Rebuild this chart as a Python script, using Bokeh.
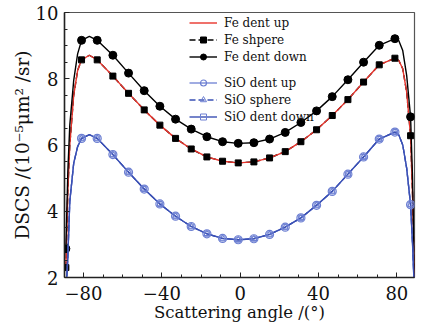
from bokeh.plotting import figure
from bokeh.models import Range1d, Legend, LegendItem, FixedTicker, Title
from bokeh.embed import file_html
from bokeh.resources import INLINE

# ---- data ----
angles = [-89, -88, -87, -85, -83, -81, -77, -73, -65, -57, -49, -41, -33, -25, -17, -9, -1,
          7, 15, 23, 31, 39, 47, 55, 63, 71, 79, 81, 83, 85, 87, 88, 89]
marker_angles = [-89, -81, -73, -65, -57, -49, -41, -33, -25, -17, -9, -1,
                 7, 15, 23, 31, 39, 47, 55, 63, 71, 79, 87]

fe_dent_up = [2.3, 4.6, 6.0, 7.5, 8.25, 8.57, 8.71, 8.57, 8.08, 7.56, 7.06, 6.60, 6.20, 5.88, 5.64, 5.51, 5.46,
              5.49, 5.61, 5.80, 6.10, 6.46, 6.89, 7.37, 7.90, 8.42, 8.62, 8.55, 8.30, 7.60, 6.28, 4.5, 2.0]
fe_sphere = [2.3, 4.6, 6.0, 7.5, 8.25, 8.57, 8.71, 8.57, 8.08, 7.56, 7.06, 6.60, 6.20, 5.88, 5.64, 5.51, 5.46,
             5.49, 5.61, 5.80, 6.10, 6.46, 6.89, 7.37, 7.90, 8.42, 8.62, 8.55, 8.30, 7.60, 6.28, 4.5, 2.0]
fe_dent_down = [2.87, 5.2, 6.6, 7.95, 8.75, 9.16, 9.28, 9.16, 8.71, 8.17, 7.64, 7.17, 6.78, 6.48, 6.25, 6.10, 6.05,
                6.07, 6.18, 6.38, 6.68, 7.03, 7.46, 7.97, 8.50, 9.01, 9.21, 9.15, 8.85, 8.10, 6.85, 5.0, 2.0]
sio_dent_up = [1.5, 2.6, 4.3, 5.45, 5.95, 6.20, 6.31, 6.20, 5.71, 5.18, 4.67, 4.22, 3.85, 3.54, 3.32, 3.18, 3.14,
               3.17, 3.30, 3.52, 3.80, 4.18, 4.60, 5.12, 5.64, 6.18, 6.39, 6.30, 6.00, 5.30, 4.20, 3.0, 1.5]
sio_sphere = [1.5, 2.6, 4.3, 5.45, 5.95, 6.20, 6.31, 6.20, 5.71, 5.18, 4.67, 4.22, 3.85, 3.54, 3.32, 3.18, 3.14,
              3.17, 3.30, 3.52, 3.80, 4.18, 4.60, 5.12, 5.64, 6.18, 6.39, 6.30, 6.00, 5.30, 4.20, 3.0, 1.5]
sio_dent_down = [1.5, 2.6, 4.3, 5.45, 5.95, 6.20, 6.31, 6.20, 5.71, 5.18, 4.67, 4.22, 3.85, 3.54, 3.32, 3.18, 3.14,
                 3.17, 3.30, 3.52, 3.80, 4.18, 4.60, 5.12, 5.64, 6.18, 6.39, 6.30, 6.00, 5.30, 4.20, 3.0, 1.5]

x_ticks = [-80, -40, 0, 40, 80]
x_tick_labels = ["\u221280", "\u221240", "0", "40", "80"]
y_ticks = [2, 4, 6, 8, 10]


def pick(vals):
    xs, ys = [], []
    for a, v in zip(angles, vals):
        if a in marker_angles:
            xs.append(a)
            ys.append(v)
    return xs, ys


FONT = "DejaVu Serif"
RED = "#e8342c"
BLUE = "#3a50b4"
LBLUE = "#6c7fd2"

p = figure(width=420, height=328, output_backend="svg", toolbar_location=None,
           x_range=Range1d(-89.7, 89), y_range=Range1d(2, 10),
           min_border_left=64, min_border_right=6, min_border_top=12, min_border_bottom=51)
p.background_fill_color = "white"
p.border_fill_color = "white"
p.grid.visible = False
p.outline_line_color = "#555555"
p.outline_line_width = 1.2

# Fe series
r_fs_line = p.line(angles, fe_sphere, line_color="black", line_width=1.4, line_dash="6 3")
r_fu_line = p.line(angles, fe_dent_up, line_color=RED, line_width=1.4)
mx, my = pick(fe_sphere)
r_fs_mark = p.scatter(mx, my, marker="square", size=6, fill_color="black", line_color="black")
r_fd_line = p.line(angles, fe_dent_down, line_color="black", line_width=1.4)
mx, my = pick(fe_dent_down)
r_fd_mark = p.scatter(mx, my, marker="circle", size=8, fill_color="black", line_color="black")

# SiO series
r_su_line = p.line(angles, sio_dent_up, line_color=LBLUE, line_width=1.3)
r_ss_line = p.line(angles, sio_sphere, line_color=BLUE, line_width=1.3, line_dash="6 3")
r_sd_line = p.line(angles, sio_dent_down, line_color=BLUE, line_width=1.4)
mx, my = pick(sio_dent_up)
r_su_mark = p.scatter(mx, my, marker="circle", size=8, fill_color=None, line_color=LBLUE, line_width=1.2)
mx, my = pick(sio_sphere)
r_ss_mark = p.scatter(mx, my, marker="triangle", size=6, fill_color=None, line_color=LBLUE, line_width=1)
mx, my = pick(sio_dent_down)
r_sd_mark = p.scatter(mx, my, marker="square", size=5, fill_color=None, line_color=LBLUE, line_width=1)

# axes
for ax in (p.xaxis[0], p.yaxis[0]):
    ax.axis_line_color = "#222222"
    ax.axis_line_width = 1.5
    ax.major_tick_in = 5
    ax.major_tick_out = 0
    ax.minor_tick_in = 3
    ax.minor_tick_out = 0
    ax.major_tick_line_color = "#222222"
    ax.minor_tick_line_color = "#222222"
    ax.major_label_text_font = FONT
    ax.major_label_text_font_size = "18px"
    ax.major_label_text_color = "#111111"
    ax.axis_label_text_font = FONT
    ax.axis_label_text_font_style = "normal"
    ax.axis_label_text_color = "#111111"

p.xaxis.axis_label_text_font_size = "16.5px"
p.xaxis.ticker = FixedTicker(ticks=x_ticks, minor_ticks=list(range(-90, 91, 10)))
p.xaxis.major_label_overrides = dict(zip(x_ticks, x_tick_labels))
p.yaxis.ticker = FixedTicker(ticks=y_ticks, minor_ticks=[2.5 + 0.5 * i for i in range(15)])
p.xaxis.axis_label = "Scattering angle /(\u00b0)"
p.xaxis.major_label_standoff = 8
p.yaxis.major_label_standoff = 6
p.xaxis.axis_label_standoff = 0

ytitle = Title(text="DSCS /(10\u207b\u2075\u03bcm\u00b2 /sr)", align="center", offset=22,
               text_font=FONT, text_font_style="normal", text_font_size="18.5px",
               text_color="#111111", standoff=0)
p.add_layout(ytitle, "left")


def make_legend(items, loc):
    lg = Legend(items=items, location=loc, padding=0, margin=0, spacing=2,
                glyph_width=28, glyph_height=15, label_height=15, label_standoff=7,
                label_text_font=FONT, label_text_font_size="12px", label_text_color="#111111",
                border_line_color=None, background_fill_alpha=0)
    p.add_layout(lg)


make_legend([
    LegendItem(label="Fe dent up", renderers=[r_fu_line]),
    LegendItem(label="Fe shpere", renderers=[r_fs_line, r_fs_mark]),
    LegendItem(label="Fe dent down", renderers=[r_fd_line, r_fd_mark]),
], (125, 213))
make_legend([
    LegendItem(label="SiO dent up", renderers=[r_su_line, r_su_mark]),
    LegendItem(label="SiO sphere", renderers=[r_ss_line, r_ss_mark]),
    LegendItem(label="SiO dent down", renderers=[r_sd_line, r_sd_mark]),
], (125, 153))

open("out.html", "w").write(file_html(p, INLINE))
